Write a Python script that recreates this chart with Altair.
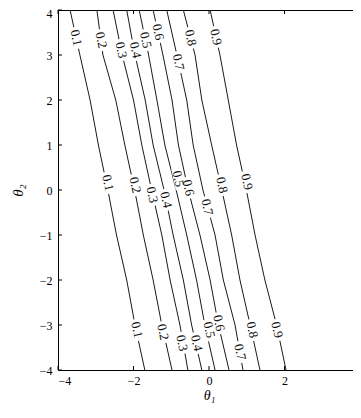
import altair as alt
import pandas as pd

levels = ["0.1", "0.2", "0.3", "0.4", "0.5", "0.6", "0.7", "0.8", "0.9"]
theta2_rows = [4, 3, 2, 1, 0, -1, -2, -3, -4]

# theta1 position of each contour, at the theta2 rows above
c01 = [-3.68, -3.42, -3.15, -2.93, -2.68, -2.45, -2.18, -1.96, -1.70]
c02 = [-2.97, -2.81, -2.47, -2.23, -1.97, -1.74, -1.48, -1.25, -0.98]
c03 = [-2.54, -2.30, -2.00, -1.78, -1.52, -1.25, -1.03, -0.77, -0.56]
c04 = [-2.18, -1.96, -1.69, -1.48, -1.19, -0.95, -0.68, -0.46, -0.19]
c05 = [-1.85, -1.60, -1.38, -1.17, -0.87, -0.59, -0.33, -0.11, 0.16]
c06 = [-1.48, -1.22, -0.98, -0.81, -0.55, -0.24, 0.03, 0.25, 0.53]
c07 = [-1.12, -0.85, -0.59, -0.42, -0.16, 0.16, 0.38, 0.69, 0.90]
c08 = [-0.68, -0.37, -0.19, 0.07, 0.34, 0.60, 0.82, 1.09, 1.35]
c09 = [0.03, 0.29, 0.51, 0.73, 0.99, 1.22, 1.48, 1.79, 2.04]
contours = [c01, c02, c03, c04, c05, c06, c07, c08, c09]

# inline label positions (theta1, theta2), three rows
lab_top_t1 = [-3.52, -2.86, -2.33, -1.95, -1.68, -1.35, -0.81, -0.49, 0.18]
lab_top_t2 = [3.38, 3.33, 3.11, 3.11, 3.33, 3.51, 2.84, 3.38, 3.40]
lab_mid_t1 = [-2.68, -1.96, -1.51, -1.14, -0.82, -0.55, -0.05, 0.34, 1.0]
lab_mid_t2 = [0.16, 0.11, -0.11, -0.22, 0.25, 0.05, -0.38, 0.11, 0.18]
lab_bot_t1 = [-1.91, -1.22, -0.72, -0.33, 0.0, 0.26, 0.82, 1.14, 1.80]
lab_bot_t2 = [-3.11, -3.16, -3.40, -3.40, -3.11, -2.96, -3.60, -3.11, -3.11]

xticks = [-4, -2, 0, 2, 4]
yticks = [-4, -3, -2, -1, 0, 1, 2, 3, 4]

rows = []
for lev, c in zip(levels, contours):
    for t2, t1 in zip(theta2_rows, c):
        rows.append({"level": lev, "t1": t1, "t2": t2})
lines_df = pd.DataFrame(rows)

lab_rows = []
for t1s, t2s in [(lab_top_t1, lab_top_t2), (lab_mid_t1, lab_mid_t2), (lab_bot_t1, lab_bot_t2)]:
    for lev, a, b in zip(levels, t1s, t2s):
        lab_rows.append({"level": lev, "t1": a, "t2": b})
lab_df = pd.DataFrame(lab_rows)

W, H = 302, 360
FONT = "Liberation Serif"
xs = alt.Scale(domain=[-4, 4], nice=False, zero=False)
ys = alt.Scale(domain=[-4, 4], nice=False, zero=False)

xenc = alt.X("t1:Q", scale=xs, title="θ₁",
             axis=alt.Axis(values=xticks, labelPadding=5, titlePadding=2,
                           titleFontStyle="italic", titleFontSize=14))
yenc = alt.Y("t2:Q", scale=ys, title="θ₂",
             axis=alt.Axis(values=yticks, labelPadding=6, titlePadding=14,
                           titleFontStyle="italic",
                           labelOffset={"condition": {"test": "datum.value == 4", "value": 3},
                                        "value": 0}))

lines = alt.Chart(lines_df).mark_line(color="#1a1a1a", strokeWidth=1, clip=True).encode(
    x=xenc, y=yenc, detail="level:N", order="t2:Q"
)

bg = alt.Chart(lab_df).mark_point(
    shape="M-0.42,-1L0.42,-1L0.42,1L-0.42,1Z", filled=True, color="white",
    opacity=1, size=484, angle=348
).encode(x=alt.X("t1:Q", scale=xs, title="θ₁"), y=alt.Y("t2:Q", scale=ys, title="θ₂"))

labels = alt.Chart(lab_df).mark_text(
    font=FONT, fontSize=13, angle=78, align="center", baseline="middle", color="#111"
).encode(x=alt.X("t1:Q", scale=xs, title="θ₁"), y=alt.Y("t2:Q", scale=ys, title="θ₂"),
         text="level:N")

xt = pd.DataFrame({"t1": xticks})
yt = pd.DataFrame({"t2": yticks})
tb = alt.Chart(xt).mark_rule(color="black").encode(
    x=alt.X("t1:Q", scale=xs, title="θ₁"), y=alt.value(H), y2=alt.value(H - 4))
tt = alt.Chart(xt).mark_rule(color="black").encode(
    x=alt.X("t1:Q", scale=xs, title="θ₁"), y=alt.value(0), y2=alt.value(4))
tl = alt.Chart(yt).mark_rule(color="black").encode(
    y=alt.Y("t2:Q", scale=ys, title="θ₂"), x=alt.value(0), x2=alt.value(4))
tr = alt.Chart(yt).mark_rule(color="black").encode(
    y=alt.Y("t2:Q", scale=ys, title="θ₂"), x=alt.value(W), x2=alt.value(W - 4))

chart = alt.layer(lines, bg, labels, tb, tt, tl, tr).properties(
    width=W, height=H,
    autosize=alt.AutoSizeParams(type="none"),
    padding={"left": 50, "top": 2, "right": -7, "bottom": 36},
).configure_view(stroke="black", strokeWidth=1).configure_axis(
    labelFont=FONT, labelFontSize=12, labelColor="black",
    titleFont=FONT, titleFontSize=15, titleFontWeight="normal", titleColor="black",
    ticks=False, domain=False, grid=False
)

chart.save("out.html", embed_options={"renderer": "svg", "actions": False})
